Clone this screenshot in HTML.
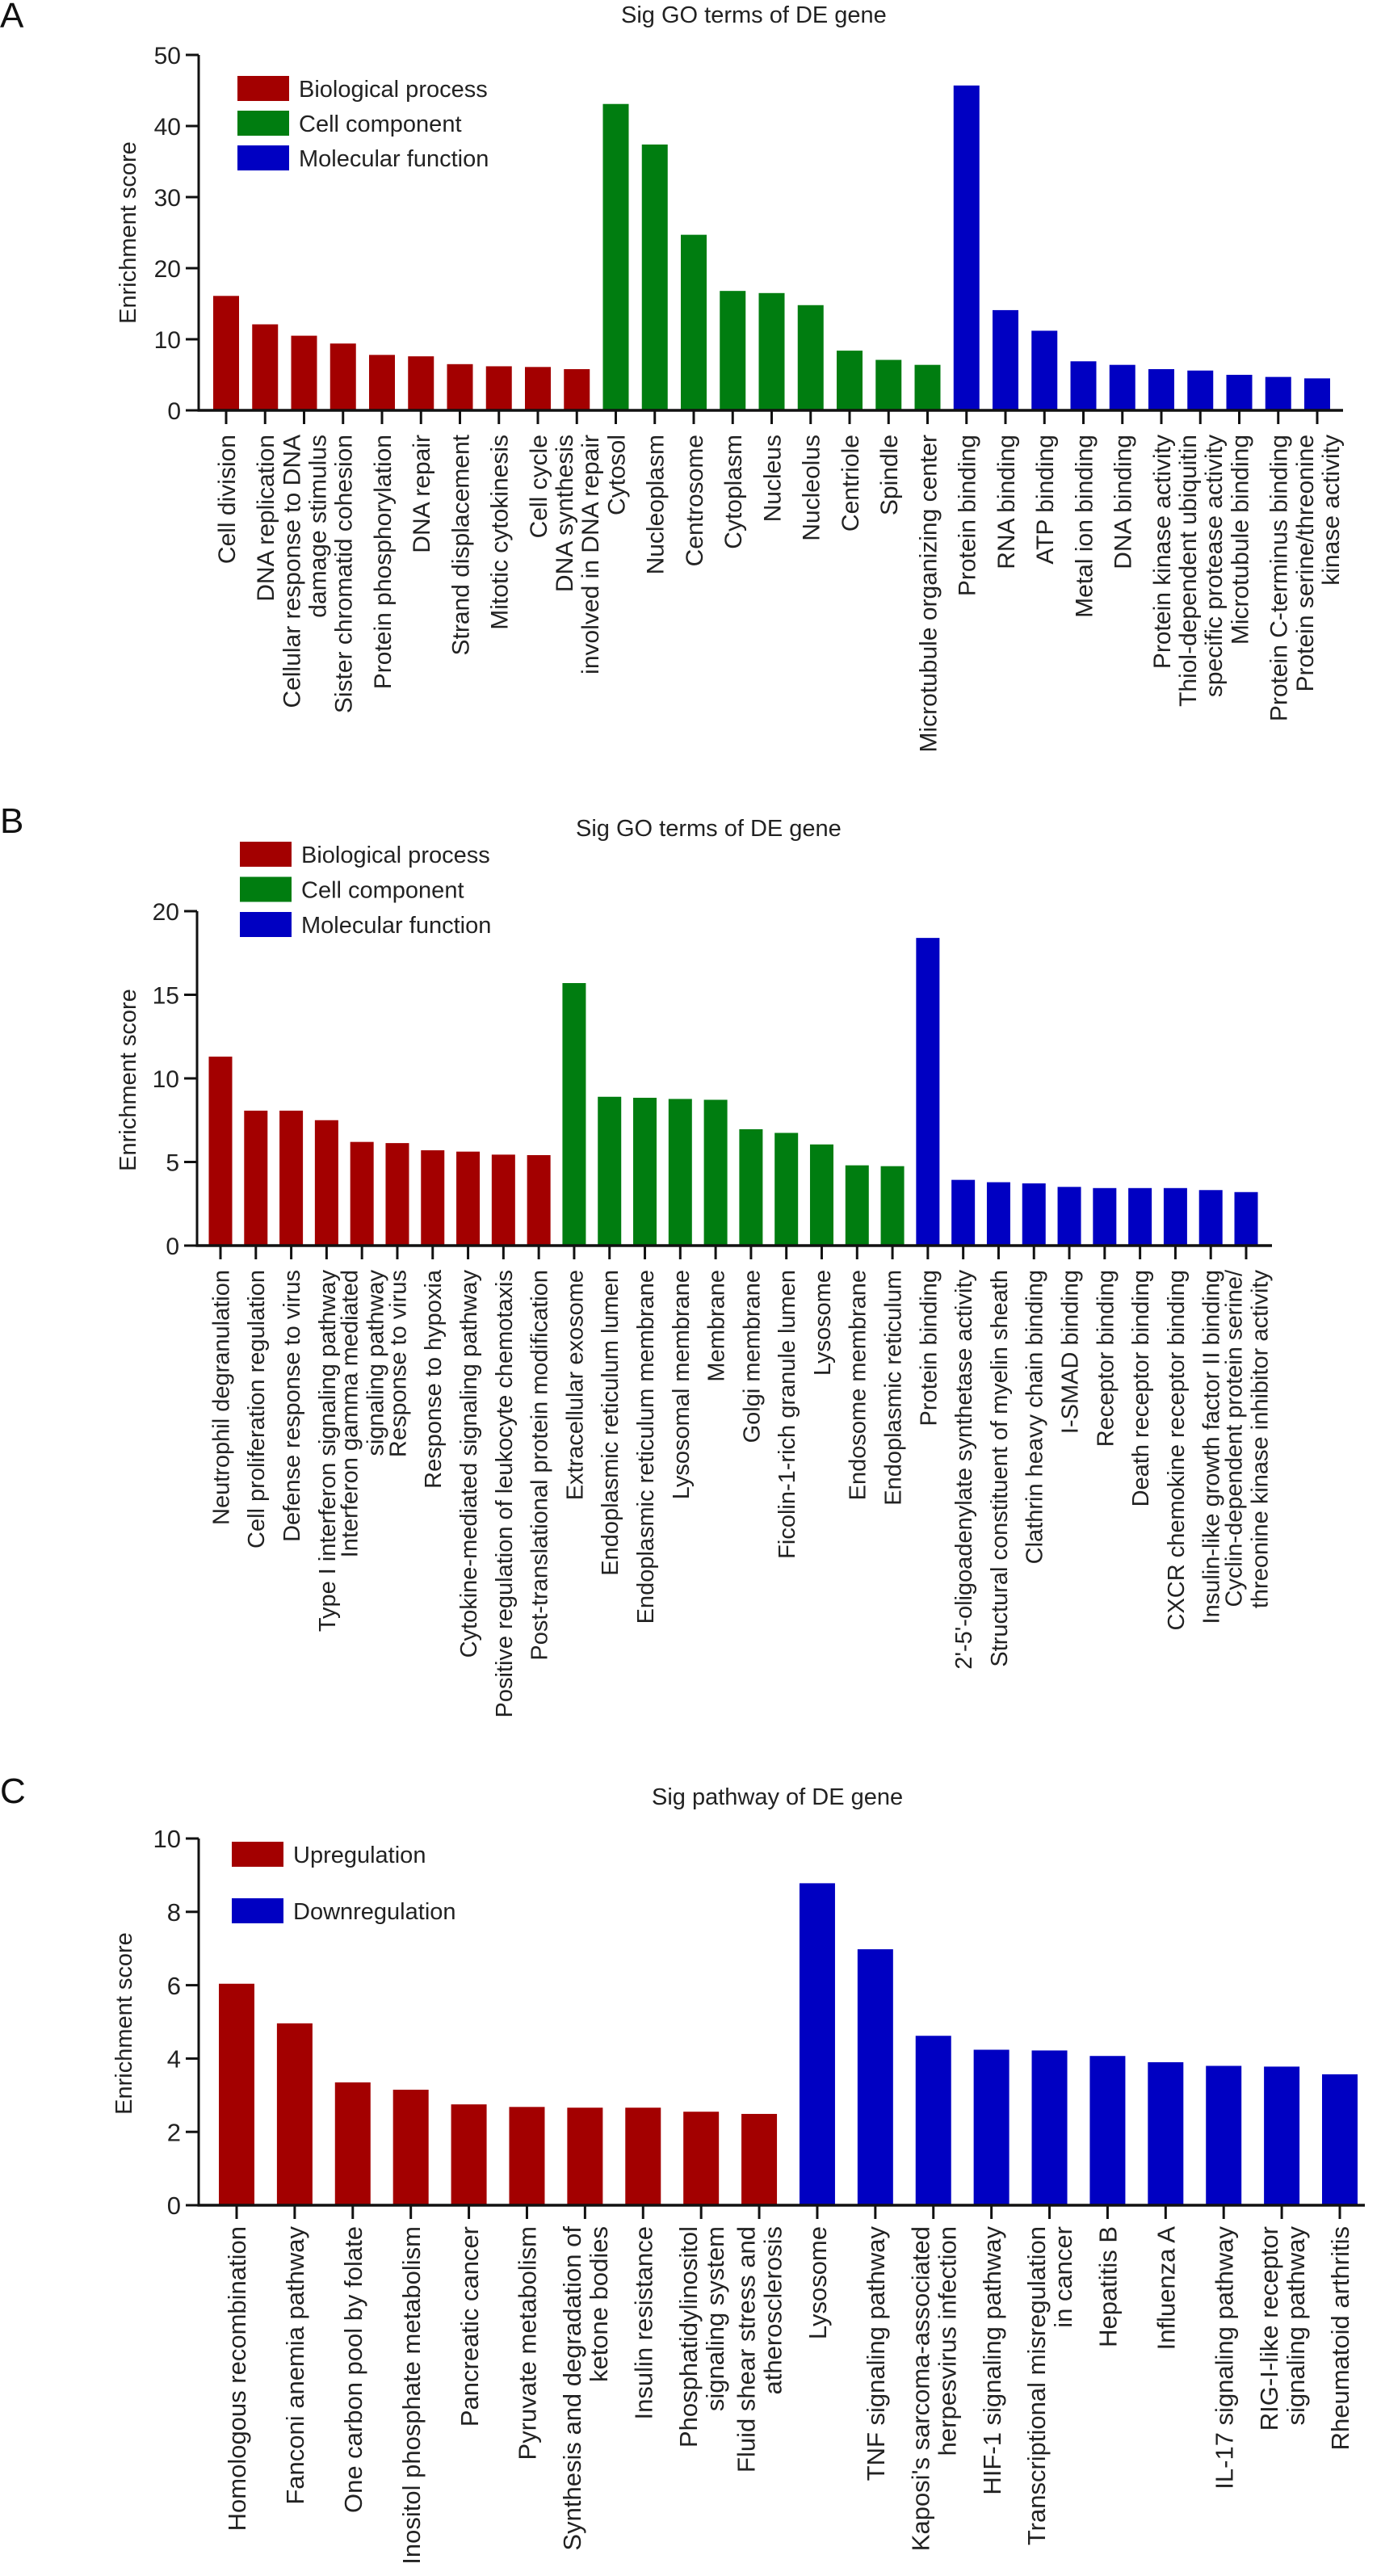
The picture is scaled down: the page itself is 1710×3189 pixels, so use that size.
<!DOCTYPE html>
<html><head><meta charset="utf-8"><style>
html,body{margin:0;padding:0;background:#fff;}
svg{display:block;font-family:"Liberation Sans",Arial,sans-serif;}
</style></head><body>
<svg id="fig" width="1710" height="3189" viewBox="0 0 1710 3189" xmlns="http://www.w3.org/2000/svg"></svg>
<script>
// ---- Panel A data ----
const catsA = ["Cell division","DNA replication","Cellular response to DNA\ndamage stimulus","Sister chromatid cohesion","Protein phosphorylation","DNA repair","Strand displacement","Mitotic cytokinesis","Cell cycle","DNA synthesis\ninvolved in DNA repair","Cytosol","Nucleoplasm","Centrosome","Cytoplasm","Nucleus","Nucleolus","Centriole","Spindle","Microtubule organizing center","Protein binding","RNA binding","ATP binding","Metal ion binding","DNA binding","Protein kinase activity","Thiol-dependent ubiquitin\nspecific protease activity","Microtubule binding","Protein C-terminus binding","Protein serine/threonine\nkinase activity"];
const valsA = [16.1,12.1,10.5,9.4,7.8,7.6,6.5,6.2,6.1,5.8, 43.1,37.4,24.7,16.8,16.5,14.8,8.4,7.1,6.4, 45.7,14.1,11.2,6.9,6.4,5.8,5.6,5.0,4.7,4.5];
const groupA = [0,0,0,0,0,0,0,0,0,0, 1,1,1,1,1,1,1,1,1, 2,2,2,2,2,2,2,2,2,2];
const ticksA = [0,10,20,30,40,50];
const legendA = ["Biological process","Cell component","Molecular function"];
// ---- Panel B data ----
const catsB = ["Neutrophil degranulation","Cell proliferation regulation","Defense response to virus","Type I interferon signaling pathway","Interferon gamma mediated\nsignaling pathway","Response to virus","Response to hypoxia","Cytokine-mediated signaling pathway","Positive regulation of leukocyte chemotaxis","Post-translational protein modification","Extracellular exosome","Endoplasmic reticulum lumen","Endoplasmic reticulum membrane","Lysosomal membrane","Membrane","Golgi membrane","Ficolin-1-rich granule lumen","Lysosome","Endosome membrane","Endoplasmic reticulum","Protein binding","2'-5'-oligoadenylate synthetase activity","Structural constituent of myelin sheath","Clathrin heavy chain binding","I-SMAD binding","Receptor binding","Death receptor binding","CXCR chemokine receptor binding","Insulin-like growth factor II binding","Cyclin-dependent protein serine/\nthreonine kinase inhibitor activity"];
const valsB = [11.3,8.07,8.07,7.5,6.2,6.13,5.7,5.62,5.44,5.41, 15.7,8.9,8.84,8.77,8.72,6.96,6.74,6.05,4.8,4.75, 18.4,3.93,3.79,3.72,3.51,3.44,3.44,3.44,3.32,3.2];
const groupB = [0,0,0,0,0,0,0,0,0,0, 1,1,1,1,1,1,1,1,1,1, 2,2,2,2,2,2,2,2,2,2];
const ticksB = [0,5,10,15,20];
const legendB = ["Biological process","Cell component","Molecular function"];
// ---- Panel C data ----
const catsC = ["Homologous recombination","Fanconi anemia pathway","One carbon pool by folate","Inositol phosphate metabolism","Pancreatic cancer","Pyruvate metabolism","Synthesis and degradation of\nketone bodies","Insulin resistance","Phosphatidylinositol\nsignaling system","Fluid shear stress and\natherosclerosis","Lysosome","TNF signaling pathway","Kaposi's sarcoma-associated\nherpesvirus infection","HIF-1 signaling pathway","Transcriptional misregulation\nin cancer","Hepatitis B","Influenza A","IL-17 signaling pathway","RIG-I-like receptor\nsignaling pathway","Rheumatoid arthritis"];
const valsC = [6.04,4.96,3.35,3.15,2.75,2.68,2.66,2.66,2.55,2.49, 8.78,6.98,4.62,4.24,4.22,4.07,3.9,3.8,3.78,3.57];
const groupC = [0,0,0,0,0,0,0,0,0,0, 2,2,2,2,2,2,2,2,2,2];
const ticksC = [0,2,4,6,8,10];
const legendC = ["Upregulation","Downregulation"];

const COLORS = ["#a30000","#007d10","#0000c2"];
const NS = "http://www.w3.org/2000/svg";
const svg = document.getElementById('fig');
function mk(tag, attrs, parent){const e=document.createElementNS(NS,tag);for(const k in attrs)e.setAttribute(k,attrs[k]);(parent||svg).appendChild(e);return e;}

function panel(cfg, cats, vals, groups, ticks, legend, legendColors){
  const g = mk('g',{});
  
  
  const yMax = ticks[ticks.length-1];
  const yS = v => cfg.y0 - (v/yMax)*(cfg.y0-cfg.yTop);
  const xS = i => cfg.x1c + i*(cfg.xLc-cfg.x1c)/(cats.length-1);
  // letter
  const L = mk('text',{x:0,y:cfg.letterY,'font-size':44,fill:'#111'},g); L.textContent=cfg.letter;
  
  
  const T = mk('text',{x:cfg.titleX,y:cfg.titleY,'font-size':29,fill:'#222'},g); T.textContent=cfg.title;
  
  
  // y-axis title
  const yt = mk('text',{x:0,y:0,'font-size':29,fill:'#222','text-anchor':'middle',transform:`translate(${cfg.ytX},${cfg.ytY}) rotate(-90)`},g); yt.textContent='Enrichment score';
  
  
  // bars
  vals.forEach((v,i)=>{
    const r = mk('rect',{x:xS(i)-cfg.bw/2,y:yS(v),width:cfg.bw,height:cfg.y0-yS(v),fill:COLORS[groups[i]]},g);
    
    
  });
  // axes
  mk('line',{x1:cfg.ax,y1:yS(yMax),x2:cfg.ax,y2:cfg.y0+1.5,stroke:'#111','stroke-width':3},g);
  mk('line',{x1:cfg.ax-1.5,y1:cfg.y0,x2:cfg.axEnd,y2:cfg.y0,stroke:'#111','stroke-width':3.5},g);
  ticks.forEach(t=>{
    mk('line',{x1:cfg.ax-16,y1:yS(t),x2:cfg.ax,y2:yS(t),stroke:'#111','stroke-width':3},g);
    const tl = mk('text',{x:cfg.ax-22,y:yS(t)+cfg.tickFs*0.36,'font-size':cfg.tickFs,'text-anchor':'end',fill:'#222'},g);
    tl.textContent = t;
    
    
  });
  cats.forEach((c,i)=>{
    const cx=xS(i);
    mk('line',{x1:cx,y1:cfg.y0,x2:cx,y2:cfg.y0+17,stroke:'#111','stroke-width':3},g);
    const lines=c.split('\n'); const n=lines.length;
    const t = mk('text',{'font-size':cfg.labFs,fill:'#222','text-anchor':'end',transform:`translate(${cx},${cfg.y0+cfg.labGap}) rotate(-90)`},g);
    
    
    lines.forEach((ln,k)=>{
      const ts=mk('tspan',{x:0,y:cfg.labFs*0.36+(k-(n-1)/2)*cfg.lh},t); ts.textContent=ln;
    });
  });
  // legend
  legend.forEach((name,k)=>{
    const ly = cfg.legY + k*cfg.legStep;
    const sw = mk('rect',{x:cfg.legX,y:ly,width:64,height:31,fill:legendColors[k]},g);
    
    
    const lt = mk('text',{x:cfg.legX+76,y:ly+26,'font-size':29,fill:'#222'},g);
    lt.textContent=name;
    
    
  });
}

panel({id:'a',letter:'A',letterY:34,title:'Sig GO terms of DE gene',titleX:769,titleY:28,ytX:168,ytY:288,
  y0:508,yTop:68,ax:246,axEnd:1663,x1c:280,xLc:1631,bw:32,tickFs:30,labFs:30,labGap:30,lh:32,
  legX:294,legY:94,legStep:43}, catsA, valsA, groupA, ticksA, legendA, COLORS);
panel({id:'b',letter:'B',letterY:1031,title:'Sig GO terms of DE gene',titleX:713,titleY:1035,ytX:168,ytY:1337,
  y0:1542,yTop:1128,ax:244,axEnd:1575,x1c:273,xLc:1543,bw:29,tickFs:30,labFs:29,labGap:30,lh:32,
  legX:297,legY:1042,legStep:43.5}, catsB, valsB, groupB, ticksB, legendB, COLORS);
panel({id:'c',letter:'C',letterY:2232,title:'Sig pathway of DE gene',titleX:807,titleY:2234,ytX:163,ytY:2505,
  y0:2730,yTop:2276,ax:246,axEnd:1690,x1c:293,xLc:1659,bw:44,tickFs:31,labFs:31,labGap:26,lh:33,
  legX:287,legY:2280,legStep:70}, catsC, valsC, groupC, ticksC, legendC, [COLORS[0],COLORS[2]]);
</script>
</body></html>
